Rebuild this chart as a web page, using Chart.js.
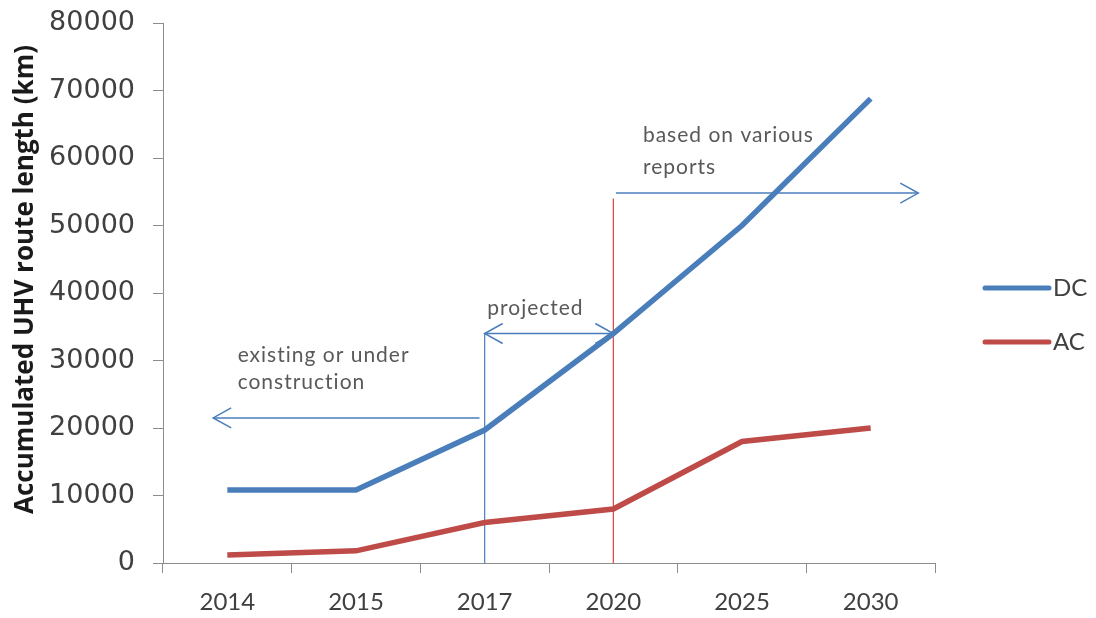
<!DOCTYPE html>
<html>
<head>
<meta charset="utf-8">
<script src="https://cdn.jsdelivr.net/npm/chart.js@4"></script>
<style>
  html, body { margin: 0; padding: 0; background: #fff; }
  #wrap { width: 1096px; height: 618px; }
</style>
</head>
<body>
<div id="wrap"><canvas id="myChart" width="1096" height="618"></canvas></div>
<script>
const years = ["2014", "2015", "2017", "2020", "2025", "2030"];
const dcValues = [10800, 10800, 19700, 34000, 50000, 68800];
const acValues = [1200, 1800, 6000, 8000, 18000, 20000];
const yTicks = [0, 10000, 20000, 30000, 40000, 50000, 60000, 70000, 80000];

const BLUE = '#4a7ebb';
const RED = '#be4b48';
const TEXT = '#404040';
const NOTE = '#595959';

// notes, positioned in data units (x = category index)
const notes = [
  { text: 'existing or under', x: 0.08, y: 30800 },
  { text: 'construction', x: 0.08, y: 26800 },
  { text: 'projected', x: 2.02, y: 37800 },
  { text: 'based on various', x: 3.23, y: 63300 },
  { text: 'reports', x: 3.23, y: 58600 }
];

function arrowHead(c, x, y, dir) {
  c.beginPath();
  c.moveTo(x + dir * 18, y - 10);
  c.lineTo(x, y);
  c.lineTo(x + dir * 18, y + 10);
  c.stroke();
}

const annotations = {
  id: 'annotations',
  beforeDatasetsDraw(chart) {
    const c = chart.ctx;
    const xs = chart.scales.x, ys = chart.scales.y;
    const X = v => xs.getPixelForValue(v);
    const Y = v => ys.getPixelForValue(v);
    c.save();

    // vertical markers
    c.lineWidth = 1.2;
    c.strokeStyle = BLUE;
    c.beginPath(); c.moveTo(X(2), Y(0)); c.lineTo(X(2), Y(34000)); c.stroke();
    c.strokeStyle = '#e04040';
    c.beginPath(); c.moveTo(X(3), Y(0)); c.lineTo(X(3), Y(54000)); c.stroke();

    // arrows
    c.strokeStyle = BLUE;
    c.lineWidth = 1.5;
    c.beginPath(); c.moveTo(X(1.96), Y(21500)); c.lineTo(X(-0.11), Y(21500)); c.stroke();
    arrowHead(c, X(-0.11), Y(21500), 1);

    c.beginPath(); c.moveTo(X(2), Y(34000)); c.lineTo(X(3), Y(34000)); c.stroke();
    arrowHead(c, X(2), Y(34000), 1);
    arrowHead(c, X(3), Y(34000), -1);

    c.beginPath(); c.moveTo(X(3.02), Y(54800)); c.lineTo(X(5.37), Y(54800)); c.stroke();
    arrowHead(c, X(5.37), Y(54800), -1);

    // labels
    c.fillStyle = NOTE;
    c.font = '21px Lato';
    c.letterSpacing = '1px';
    c.textBaseline = 'middle';
    c.textAlign = 'left';
    notes.forEach(n => c.fillText(n.text, X(n.x), Y(n.y)));
    c.restore();
  }
};

const sideLegend = {
  id: 'sideLegend',
  afterDraw(chart) {
    const c = chart.ctx;
    const x0 = chart.chartArea.right + 50;
    const mid = chart.height / 2 + 6;
    c.save();
    chart.data.datasets.forEach((ds, i) => {
      const y = mid - 27 + i * 54;
      c.strokeStyle = ds.borderColor;
      c.lineWidth = 5;
      c.lineCap = 'round';
      c.beginPath(); c.moveTo(x0, y); c.lineTo(x0 + 64, y); c.stroke();
      c.fillStyle = TEXT;
      c.font = '24px Lato';
      c.textBaseline = 'middle';
      c.fillText(ds.label, x0 + 68, y);
    });
    c.restore();
  }
};

const ctx = document.getElementById("myChart").getContext("2d");

let chart = new Chart(ctx, {
  type: 'line',
  data: {
    labels: years,
    datasets: [{
      label: 'DC',
      data: dcValues,
      borderColor: BLUE,
      borderWidth: 5.5,
      pointRadius: 0,
      tension: 0
    }, {
      label: 'AC',
      data: acValues,
      borderColor: RED,
      borderWidth: 5.5,
      pointRadius: 0,
      tension: 0
    }]
  },
  options: {
    responsive: false,
    animation: false,
    layout: { padding: { left: 0, right: 161, top: 23, bottom: 0 } },
    plugins: {
      legend: { display: false },
      tooltip: { enabled: false }
    },
    scales: {
      x: {
        offset: true,
        grid: { offset: true, drawOnChartArea: false, tickLength: 10, color: '#8c8c8c' },
        border: { color: '#8c8c8c' },
        ticks: { color: TEXT, font: { family: 'Lato', size: 24 }, padding: 15 },
        afterFit: s => { s.height = 55; s.paddingLeft = 0; s.paddingRight = 0; }
      },
      y: {
        min: 0,
        max: 80000,
        afterBuildTicks: s => { s.ticks = yTicks.map(v => ({ value: v })); },
        grid: { drawOnChartArea: false, tickLength: 10, color: '#8c8c8c' },
        border: { color: '#8c8c8c' },
        ticks: {
          color: TEXT,
          font: { family: 'DejaVu Sans', size: 27 },
          padding: 18,
          callback: v => String(v)
        },
        title: {
          display: true,
          text: '    Accumulated UHV route length (km)',
          color: '#1a1a1a',
          font: { family: 'Open Sans', size: 26, weight: 'bold' },
          padding: { top: 10, bottom: 0 }
        },
        afterFit: s => { s.width = 163; s.paddingTop = 0; s.paddingBottom = 0; }
      }
    }
  },
  plugins: [annotations, sideLegend]
});
</script>
</body>
</html>
